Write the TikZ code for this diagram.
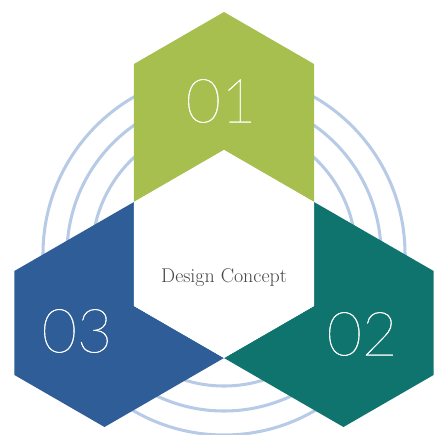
\documentclass[tikz,border=0pt]{standalone}
\usepackage{fontspec}
\usepackage{xcolor}
\usepackage{tikz}
% thin figures: take the first light face that is there
\IfFontExistsTF{Lato Thin}{\newfontfamily\numfont{Lato Thin}[UprightFeatures={FakeBold=0.6}]}{%
  \IfFontExistsTF{Lato Hairline}{\newfontfamily\numfont{Lato Hairline}[UprightFeatures={FakeBold=0.6}]}{%
    \IfFontExistsTF{Open Sans Light}{\newfontfamily\numfont{Open Sans Light}[UprightFeatures={FakeBold=0.6}]}{%
      \IfFontExistsTF{DejaVuSans-ExtraLight.ttf}{\newfontfamily\numfont{DejaVuSans-ExtraLight.ttf}}{%
        \newfontfamily\numfont{TeX Gyre Heros}}}}}
\definecolor{leaf}{RGB}{166,191,78}
\definecolor{sea}{RGB}{15,116,109}
\definecolor{ocean}{RGB}{46,93,151}
\definecolor{ripple}{RGB}{183,203,230}
\definecolor{ink}{RGB}{70,70,70}

\begin{document}
\begin{tikzpicture}[x=0.03cm,y=0.03cm]
    \tikzstyle{ring}=[draw=ripple,line width=2.6pt]
    \tikzstyle{chevron}=[draw=none]
    \tikzstyle{number}=[text=white,font=\numfont\fontsize{52}{52}\selectfont]
    \tikzstyle{title}=[text=ink,font=\fontsize{17}{17}\selectfont]

    \useasboundingbox (-224,-181) rectangle (211,254);

    \draw[ring] (0,0) circle (132);
    \draw[ring] (0,0) circle (157);
    \draw[ring] (0,0) circle (181);

    \path[chevron,fill=leaf] (90:104) -- (30:104) -- (64.63:210.27) -- (90:242) -- (115.37:210.27) -- (150:104) -- cycle;
    \path[chevron,fill=ocean] (210:104) -- (150:104) -- (184.63:210.27) -- (210:242) -- (235.37:210.27) -- (270:104) -- cycle;
    \path[chevron,fill=sea] (330:104) -- (270:104) -- (304.63:210.27) -- (330:242) -- (355.37:210.27) -- (30:104) -- cycle;
    \path[chevron,fill=white] (90:104) -- (150:104) -- (210:104) -- (270:104) -- (330:104) -- (30:104) -- cycle;

    \node[number] (one) at (-3,153) {01};
    \node[number] (two) at (138,-80) {02};
    \node[number] (three) at (-147,-77) {03};
    \node[title,anchor=base] (concept) at (0,-28) {Design Concept};
\end{tikzpicture}
\end{document}
